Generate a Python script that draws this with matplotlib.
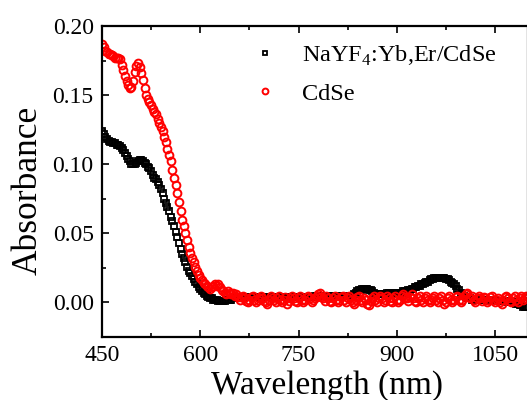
import matplotlib
matplotlib.use("Agg")
import matplotlib.pyplot as plt
import numpy as np
from matplotlib.ticker import MultipleLocator

plt.rcParams['font.family'] = ['Liberation Serif', 'DejaVu Serif']
plt.rcParams['mathtext.fontset'] = 'custom'
plt.rcParams['mathtext.rm'] = 'Liberation Serif'

# wavelength grid (nm), 2.5 nm steps
wavelength = np.arange(450, 1100.1, 2.5)

# NaYF4:Yb,Er/CdSe (black squares)
abs_nayf = [
    0.124, 0.122, 0.120, 0.118, 0.117, 0.116, 0.116, 0.115, 0.115, 0.114,   # 450
    0.114, 0.113, 0.112, 0.110, 0.108, 0.106, 0.104, 0.102, 0.100, 0.100,   # 475
    0.100, 0.101, 0.102, 0.103, 0.103, 0.102, 0.101, 0.100, 0.098, 0.097,   # 500
    0.095, 0.092, 0.090, 0.089, 0.087, 0.085, 0.082, 0.079, 0.075, 0.072,   # 525
    0.069, 0.066, 0.062, 0.059, 0.055, 0.051, 0.047, 0.043, 0.039, 0.035,   # 550
    0.032, 0.029, 0.026, 0.023, 0.021, 0.019, 0.017, 0.015, 0.013, 0.011,   # 575
    0.010, 0.008, 0.007, 0.006, 0.005, 0.004, 0.003, 0.003, 0.002, 0.002,   # 600
    0.002, 0.001, 0.001, 0.001, 0.001, 0.001, 0.002, 0.002, 0.002, 0.002,   # 625
    0.003, 0.003, 0.003, 0.003, 0.003, 0.003, 0.004, 0.004, 0.004, 0.004,   # 650
    0.004, 0.004, 0.004, 0.004, 0.004, 0.004, 0.004, 0.004, 0.004, 0.004,   # 675
    0.004, 0.004, 0.004, 0.004, 0.004, 0.004, 0.004, 0.004, 0.004, 0.004,   # 700
    0.004, 0.004, 0.004, 0.004, 0.004, 0.004, 0.004, 0.004, 0.004, 0.004,   # 725
    0.004, 0.004, 0.004, 0.004, 0.004, 0.004, 0.004, 0.004, 0.004, 0.004,   # 750
    0.005, 0.005, 0.005, 0.005, 0.005, 0.005, 0.005, 0.005, 0.005, 0.005,   # 775
    0.005, 0.005, 0.005, 0.005, 0.005, 0.005, 0.005, 0.005, 0.005, 0.005,   # 800
    0.005, 0.005, 0.005, 0.005, 0.006, 0.007, 0.008, 0.009, 0.009, 0.010,   # 825
    0.010, 0.010, 0.010, 0.009, 0.009, 0.008, 0.007, 0.006, 0.006, 0.006,   # 850
    0.006, 0.006, 0.006, 0.006, 0.007, 0.007, 0.007, 0.007, 0.007, 0.007,   # 875
    0.007, 0.007, 0.007, 0.007, 0.008, 0.008, 0.008, 0.009, 0.009, 0.010,   # 900
    0.010, 0.011, 0.011, 0.012, 0.012, 0.013, 0.013, 0.014, 0.015, 0.015,   # 925
    0.016, 0.017, 0.017, 0.018, 0.018, 0.018, 0.018, 0.018, 0.018, 0.018,   # 950
    0.017, 0.017, 0.016, 0.015, 0.014, 0.013, 0.012, 0.010, 0.009, 0.007,   # 975
    0.006, 0.005, 0.004, 0.003, 0.003, 0.003, 0.002, 0.002, 0.002, 0.002,   # 1000
    0.002, 0.002, 0.002, 0.002, 0.002, 0.002, 0.002, 0.001, 0.001, 0.001,   # 1025
    0.001, 0.001, 0.001, 0.001, 0.001, 0.001, 0.001, 0.001, 0.000, 0.000,   # 1050
    0.000, 0.000, 0.000, -0.001, -0.001, -0.002, -0.002, -0.003, -0.003, -0.003,  # 1075
    -0.003,                                                                  # 1100
]

# CdSe (red circles)
abs_cdse = [
    0.187, 0.185, 0.182, 0.181, 0.180, 0.180, 0.179, 0.178, 0.177, 0.177,   # 450
    0.177, 0.176, 0.172, 0.168, 0.164, 0.160, 0.157, 0.155, 0.156, 0.160,   # 475
    0.167, 0.171, 0.173, 0.170, 0.166, 0.161, 0.155, 0.150, 0.147, 0.145,   # 500
    0.143, 0.140, 0.138, 0.136, 0.133, 0.130, 0.127, 0.124, 0.120, 0.116,   # 525
    0.111, 0.107, 0.102, 0.096, 0.090, 0.085, 0.079, 0.073, 0.066, 0.060,   # 550
    0.055, 0.050, 0.045, 0.040, 0.036, 0.032, 0.029, 0.026, 0.023, 0.020,   # 575
    0.018, 0.016, 0.014, 0.013, 0.012, 0.011, 0.010, 0.011, 0.012, 0.013,   # 600
    0.012, 0.013, 0.011, 0.009, 0.008, 0.007, 0.006, 0.008, 0.007, 0.006,   # 625
    0.007, 0.005, 0.006, 0.004, 0.002, 0.004, 0.005, 0.003, 0.001, 0.000,   # 650
    0.002, 0.004, 0.005, 0.002, 0.000, 0.002, 0.003, 0.005, 0.003, 0.001,   # 675
    0.000, -0.001, 0.002, 0.005, 0.003, 0.002, 0.000, 0.003, 0.005, 0.002,  # 700
    0.000, 0.002, 0.004, -0.001, 0.001, 0.003, 0.005, 0.003, 0.001, 0.000,  # 725
    0.003, 0.005, 0.002, 0.000, 0.002, 0.004, 0.005, 0.003, 0.000, 0.002,   # 750
    0.003, 0.005, 0.006, 0.007, 0.004, 0.003, 0.001, 0.005, 0.003, 0.001,   # 775
    0.000, 0.003, 0.005, 0.002, 0.000, 0.002, 0.004, 0.005, 0.002, 0.000,   # 800
    0.003, 0.005, 0.002, 0.000, -0.001, 0.002, 0.004, 0.005, 0.002, 0.000,  # 825
    0.003, 0.002, -0.001, -0.002, 0.001, 0.003, 0.005, 0.002, 0.000, 0.003,  # 850
    0.005, 0.003, 0.000, 0.002, 0.005, 0.003, 0.001, 0.000, 0.003, 0.005,   # 875
    0.002, 0.000, 0.002, 0.005, 0.006, 0.004, 0.003, 0.001, 0.004, 0.006,   # 900
    0.003, 0.001, 0.000, 0.003, 0.005, 0.002, 0.000, 0.003, 0.005, 0.002,   # 925
    0.000, 0.002, 0.003, 0.005, 0.002, 0.000, 0.003, 0.005, 0.002, -0.001,  # 950
    0.000, 0.003, 0.005, 0.002, 0.000, 0.002, 0.004, 0.005, 0.002, 0.000,   # 975
    0.002, 0.005, 0.006, 0.007, 0.004, 0.003, 0.005, 0.002, 0.000, 0.003,   # 1000
    0.005, 0.003, 0.001, 0.004, 0.003, 0.000, 0.002, 0.004, 0.005, 0.002,   # 1025
    0.000, 0.002, 0.003, 0.000, -0.001, 0.002, 0.004, 0.005, 0.003, 0.001,  # 1050
    0.000, 0.003, 0.005, 0.002, 0.000, 0.003, 0.005, 0.002, 0.003, 0.005,   # 1075
    0.004,                                                                  # 1100
]

fig = plt.figure(figsize=(5.27, 4.0), dpi=100)
ax = fig.add_axes([0.1935, 0.1575, 0.808, 0.7775])

ax.plot(wavelength, abs_nayf, ls='none', marker='s', ms=4.3, mfc='none',
        mec='black', mew=1.3, label='NaYF$_4$:Yb,Er/CdSe')
ax.plot(wavelength, abs_cdse, ls='none', marker='o', ms=5.6, mfc='none',
        mec='red', mew=1.4, label='CdSe')

ax.set_xlim(450, 1100)
ax.set_ylim(-0.025, 0.20)
ax.xaxis.set_major_locator(MultipleLocator(150))
ax.xaxis.set_minor_locator(MultipleLocator(75))
ax.yaxis.set_minor_locator(MultipleLocator(0.025))
ax.set_yticks([0.0, 0.05, 0.10, 0.15, 0.20])
ax.set_yticklabels(['0.00', '0.05', '0.10', '0.15', '0.20'])

ax.tick_params(which='both', direction='in', top=True, right=False,
               labelsize=17, width=1.2, pad=6)
ax.tick_params(which='major', length=5)
ax.tick_params(which='minor', length=3)
for s in ax.spines.values():
    s.set_linewidth(1.6)

ax.set_xlabel('Wavelength (nm)', fontsize=24, labelpad=3, x=0.528)
ax.set_ylabel('Absorbance', fontsize=25.5, labelpad=6, y=0.473)

leg = ax.legend(loc='upper left', bbox_to_anchor=(0.326, 0.943), frameon=False,
                fontsize=17.5, handlelength=2.0, handletextpad=0.5,
                labelspacing=0.6, borderpad=0, borderaxespad=0,
                markerscale=0.75)

fig.savefig('out.png', dpi=100, facecolor='white')
